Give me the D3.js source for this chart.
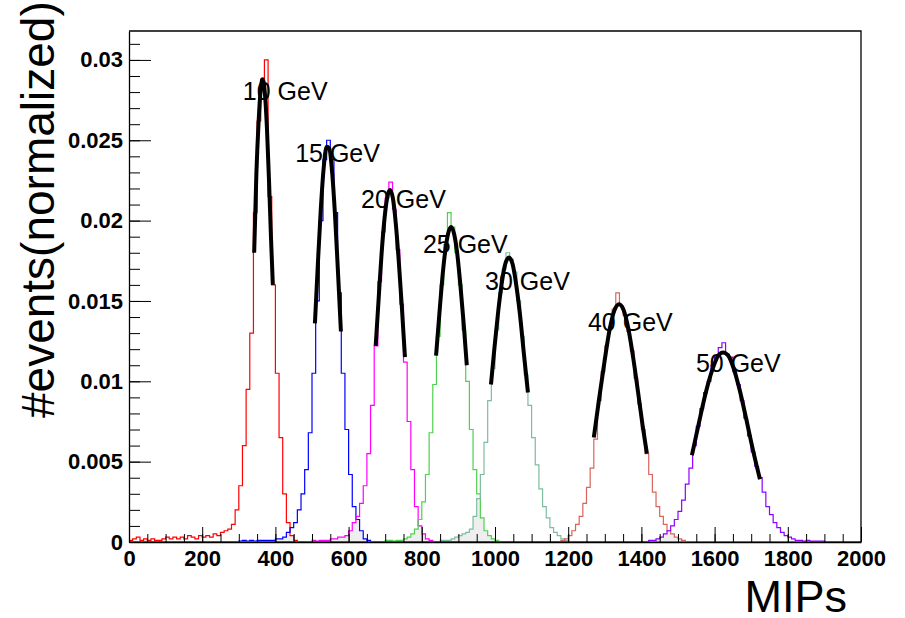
<!DOCTYPE html>
<meta charset="utf-8">

<style>
	body {
		margin: 0;
		background: #fff;
	}
	svg text {
		font-family: "Liberation Sans", Arial, sans-serif;
	}
</style>

<script src="https://d3js.org/d3.v7.min.js"></script>

<body>
	<script>
		// ---- data ----
		var energies = ["10 GeV", "15 GeV", "20 GeV", "25 GeV", "30 GeV", "40 GeV", "50 GeV"];
		var binWidth = 10; // MIPs per bin
		var histStart = [0, 300, 500, 700, 850, 1180, 1420]; // first non-empty bin of each histogram

		var hist10 = [0.0001, 0.0002, 0.0003, 0.0001, 0.0002, 0.0001, 0.0002, 0.0001, 0.0001, 0.0002,
			0.0003, 0.0002, 0.0003, 0.0002, 0.0003, 0.0002, 0.0004, 0.0003, 0.0002, 0.0004,
			0.0003, 0.0004, 0.0003, 0.0005, 0.0004, 0.0006, 0.0007,
			0.0008, 0.0011, 0.0020, 0.0035, 0.0060, 0.0095, 0.0130, 0.0205, 0.0262, 0.0288,
			0.0300, 0.0215, 0.0160, 0.0105, 0.0065, 0.0030, 0.0012, 0.0004, 0.0001];
		var hist15 = [0.00005, 0.0001, 0.00005, 0.0001, 0.00005, 0.0001, 0.0001, 0.0001, 0.0001, 0.0001, 0.0002, 0.0002,
			0.0003, 0.0006, 0.0009, 0.0012, 0.0020, 0.0030, 0.0045, 0.0068, 0.0105, 0.0150, 0.0200, 0.0238,
			0.0250, 0.0238, 0.0205, 0.0155, 0.0105, 0.0070, 0.0042, 0.0022, 0.0014, 0.0007, 0.0002, 0.0001];
		var hist20 = [0.0001, 0.00005, 0.0001, 0.0001, 0.0001, 0.0002, 0.0002, 0.0003, 0.0003, 0.0004,
			0.0007, 0.0012, 0.0016, 0.0024, 0.0035, 0.0055, 0.0085, 0.0122, 0.0162, 0.0193, 0.0214,
			0.0224, 0.0207, 0.0182, 0.0148, 0.0112, 0.0075, 0.0045, 0.0022, 0.0010, 0.0005, 0.0002, 0.0001];
		var hist25 = [0.0001, 0.0001, 0.00005, 0.0001, 0.0001, 0.0002, 0.0003, 0.0005, 0.0008, 0.0014,
			0.0025, 0.0042, 0.0068, 0.0098, 0.0128, 0.0160, 0.0185, 0.0205, 0.0196, 0.0180, 0.0160,
			0.0132, 0.0100, 0.0070, 0.0045, 0.0030, 0.0015, 0.0007, 0.0004, 0.0002, 0.0001];
		var hist30 = [0.0001, 0.0001, 0.0001, 0.0002, 0.0003, 0.0004, 0.0005, 0.0006, 0.0008, 0.0016,
			0.0027, 0.0042, 0.0062, 0.0088, 0.0108, 0.0132, 0.0155, 0.0170, 0.0180, 0.0176, 0.0168,
			0.0150, 0.0128, 0.0104, 0.0085, 0.0065, 0.0048, 0.0033, 0.0022, 0.0015, 0.0009, 0.0006,
			0.0004, 0.0002, 0.0001];
		var hist40 = [0.0001, 0.0002, 0.0004, 0.0007, 0.0011, 0.0016, 0.0024, 0.0034, 0.0046, 0.0064,
			0.0088, 0.0106, 0.0122, 0.0134, 0.0145, 0.0155, 0.0147, 0.0141, 0.0131, 0.0119, 0.0102,
			0.0086, 0.0070, 0.0055, 0.0042, 0.0031, 0.0022, 0.0016, 0.0011, 0.0007, 0.0005, 0.0003,
			0.0002, 0.0001];
		var hist50 = [0.0001, 0.0001, 0.0002, 0.0003, 0.0005, 0.0007, 0.0010, 0.0014, 0.0019, 0.0026,
			0.0036, 0.0046, 0.0060, 0.0072, 0.0083, 0.0093, 0.0100, 0.0110, 0.0116, 0.0121, 0.0124,
			0.0117, 0.0115, 0.0106, 0.0098, 0.0088, 0.0077, 0.0066, 0.0056, 0.0047, 0.0040, 0.0031,
			0.0022, 0.0017, 0.0012, 0.0009, 0.0006, 0.0004, 0.0003, 0.0002, 0.0001, 0.0001, 0.00005,
			0.0001, 0.00005, 0.00005, 0.00005, 0.00005];

		// gaussian fit curves, [MIPs, value]
		var fit10 = [[342, 0.0180], [348, 0.0229], [354, 0.0261], [360, 0.0282], [365, 0.0288],
			[371, 0.0280], [377, 0.0257], [383, 0.0222], [388, 0.0189], [393, 0.0160]];
		var fit15 = [[508, 0.0136], [516, 0.0173], [524, 0.0207], [532, 0.0233], [540, 0.0246],
			[547, 0.0245], [555, 0.0230], [563, 0.0203], [571, 0.0168], [579, 0.0131]];
		var fit20 = [[674, 0.0122], [682, 0.0151], [690, 0.0179], [698, 0.0201], [706, 0.0215], [713, 0.0219],
			[721, 0.0214], [729, 0.0198], [737, 0.0175], [745, 0.0148], [754, 0.0115]];
		var fit25 = [[839, 0.0116], [848, 0.0142], [856, 0.0164], [864, 0.0181], [872, 0.0192], [880, 0.0196],
			[888, 0.0192], [896, 0.0181], [905, 0.0161], [914, 0.0137], [923, 0.0110]];
		var fit30 = [[989, 0.0098], [999, 0.0122], [1009, 0.0144], [1019, 0.0162], [1028, 0.0173], [1038, 0.0177],
			[1048, 0.0173], [1058, 0.0160], [1068, 0.0142], [1079, 0.0117], [1090, 0.0093]];
		var fit40 = [[1270, 0.0065], [1285, 0.0090], [1299, 0.0112], [1313, 0.0132], [1326, 0.0144], [1339, 0.0148],
			[1352, 0.0144], [1365, 0.0132], [1378, 0.0114], [1391, 0.0093], [1403, 0.0073], [1415, 0.0055]];
		var fit50 = [[1538, 0.0054], [1557, 0.0074], [1576, 0.0093], [1595, 0.0108], [1610, 0.0116], [1623, 0.0118],
			[1637, 0.0116], [1652, 0.0108], [1668, 0.0095], [1686, 0.0077], [1705, 0.0057], [1724, 0.0039]];

		// where each energy label sits (MIPs, value of its baseline)
		var labelX = [311, 454, 634, 803, 973, 1254, 1549];
		var labelY = [0.0275, 0.02366, 0.0208, 0.0180, 0.0157, 0.0131, 0.0106];

		var xTicks = [0, 200, 400, 600, 800, 1000, 1200, 1400, 1600, 1800, 2000];
		var yTicks = [0, 0.005, 0.01, 0.015, 0.02, 0.025, 0.03];
		var yTickLabels = ["0", "0.005", "0.01", "0.015", "0.02", "0.025", "0.03"];

		var hists = [hist10, hist15, hist20, hist25, hist30, hist40, hist50];
		var fits = [fit10, fit15, fit20, fit25, fit30, fit40, fit50];
		var colors = ["#ff0000", "#0000ff", "#ff00ff", "#4fd04f", "#7dbd9f", "#d9645c", "#8f00ff"];

		// ---- layout ----
		var width = 905;
		var height = 618;
		var frameL = 129, frameR = 861, frameT = 31, frameB = 542;

		var svg = d3.select("body").append("svg")
			.attr("width", width)
			.attr("height", height);

		var x = d3.scaleLinear().domain([0, 2000]).range([frameL, frameR]);
		var y = d3.scaleLinear().domain([0, 0.0318]).range([frameB, frameT]);

		// expand every histogram to the full 0..2000 range (empty bins are 0)
		var nBins = 2000 / binWidth;
		var binned = hists.map(function(h, k) {
			var pts = [];
			for (var i = 0; i < nBins; i++) {
				var lo = i * binWidth;
				var j = (lo - histStart[k]) / binWidth;
				pts.push([lo, (j >= 0 && j < h.length) ? h[j] : 0]);
			}
			pts.push([2000, pts[pts.length - 1][1]]);
			return pts;
		});

		var stepLine = d3.line()
			.x(function(d) { return x(d[0]); })
			.y(function(d) { return y(d[1]); })
			.curve(d3.curveStepAfter);

		var stepArea = d3.area()
			.x(function(d) { return x(d[0]); })
			.y0(y(0))
			.y1(function(d) { return y(d[1]); })
			.curve(d3.curveStepAfter);

		// grey where two neighbouring histograms overlap
		var defs = svg.append("defs");
		for (var k = 0; k < binned.length - 1; k++) {
			defs.append("clipPath").attr("id", "clip" + k)
				.append("path").attr("d", stepArea(binned[k + 1]));
			svg.append("path")
				.attr("d", stepArea(binned[k]))
				.attr("fill", "#eeeeee")
				.attr("clip-path", "url(#clip" + k + ")");
		}

		// histograms
		svg.selectAll(".hist")
			.data(binned)
			.enter().append("path")
			.attr("class", "hist")
			.attr("d", stepLine)
			.attr("fill", "none")
			.attr("stroke", function(d, i) { return colors[i]; })
			.attr("stroke-width", 1.2);

		// fits
		var fitLine = d3.line()
			.x(function(d) { return x(d[0]); })
			.y(function(d) { return y(d[1]); })
			.curve(d3.curveMonotoneX);

		svg.selectAll(".fit")
			.data(fits)
			.enter().append("path")
			.attr("class", "fit")
			.attr("d", fitLine)
			.attr("fill", "none")
			.attr("stroke", "#000")
			.attr("stroke-width", 4);

		// axes: ticks point into the frame like ROOT
		var yMinor = d3.range(0, 32).map(function(i) { return i * 0.001; });
		svg.append("g")
			.attr("transform", "translate(" + frameL + ",0)")
			.call(d3.axisLeft(y).tickValues(yMinor).tickSize(-11).tickSizeOuter(0).tickFormat(""))
			.call(function(g) { g.select(".domain").remove(); });
		var yAxis = svg.append("g")
			.attr("transform", "translate(" + frameL + ",0)")
			.call(d3.axisLeft(y).tickValues(yTicks).tickSize(-22).tickSizeOuter(0).tickPadding(6)
				.tickFormat(function(d, i) { return yTickLabels[i]; }));

		var xMinor = d3.range(0, 41).map(function(i) { return i * 50; });
		svg.append("g")
			.attr("transform", "translate(0," + frameB + ")")
			.call(d3.axisBottom(x).tickValues(xMinor).tickSize(-8).tickSizeOuter(0).tickFormat(""))
			.call(function(g) { g.select(".domain").remove(); });
		var xAxis = svg.append("g")
			.attr("transform", "translate(0," + frameB + ")")
			.call(d3.axisBottom(x).tickValues(xTicks).tickSize(-15).tickSizeOuter(0).tickPadding(8)
				.tickFormat(function(d) { return String(d); }));

		svg.selectAll(".tick line").attr("stroke", "#000");
		svg.selectAll(".domain").attr("stroke", "#000").attr("stroke-width", 1.3);
		[xAxis, yAxis].forEach(function(g) {
			g.selectAll("text")
				.attr("fill", "#000")
				.style("font-size", "22px")
				.style("font-weight", "bold")
				.style("font-family", "'Liberation Sans', Arial, sans-serif");
		});

		// frame top and right
		svg.append("path")
			.attr("d", "M" + frameL + "," + frameT + "H" + frameR + "V" + frameB)
			.attr("fill", "none")
			.attr("stroke", "#000")
			.attr("stroke-width", 1.3);

		// energy labels
		svg.selectAll(".elabel")
			.data(energies)
			.enter().append("text")
			.attr("class", "elabel")
			.attr("x", function(d, i) { return x(labelX[i]); })
			.attr("y", function(d, i) { return y(labelY[i]); })
			.style("font-size", "25px")
			.text(function(d) { return d; });

		// axis titles
		svg.append("text")
			.attr("x", 847)
			.attr("y", 612)
			.attr("text-anchor", "end")
			.style("font-size", "45px")
			.text("MIPs");

		svg.append("text")
			.attr("transform", "translate(54,418) rotate(-90)")
			.style("font-size", "46px")
			.text("#events(normalized)");
	</script>

</body>
